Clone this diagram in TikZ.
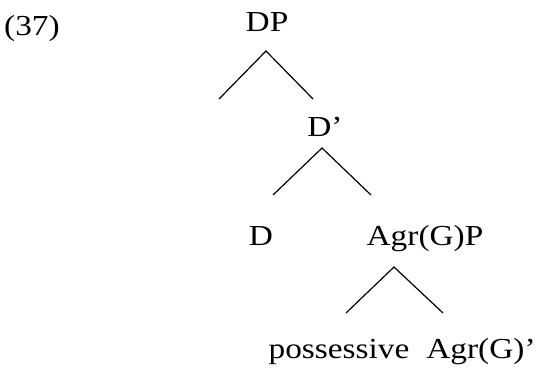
\documentclass[tikz,border=0pt]{standalone}
\usepackage{fontspec}
\setmainfont[FakeStretch=1.15]{Liberation Serif}
\usetikzlibrary{positioning}
\tikzset{
  branch/.style = {line width=1.2pt, black},
  cat/.style    = {anchor=base, inner sep=0pt, font=\fontsize{29}{31}\selectfont},
  exno/.style   = {anchor=base west, inner sep=0pt, font=\fontsize{29}{31}\selectfont},
}

\begin{document}
\begin{tikzpicture}[x=1pt, y=-1pt]
\useasboundingbox (0,0) rectangle (538,367);

% ---- example number and labels --------------------------------------------
\node[exno] (ex)   at (4,35)    {(37)};
\node[cat]  (dp)   at (267,31)  {DP};
\node[cat]  (dbar) at (325,136) {D’};
\node[cat]  (d)    at (261,245) {D};
\node[cat]  (agrp) at (425,245) {Agr(G)P};
\node[cat]  (poss) at (339,358) {possessive};
\node[cat]  (agrbar) at (481,358) {Agr(G)’};

% ---- branching points -----------------------------------------------------
\coordinate (dp-top)    at (266,51);
\coordinate (dp-left)   at (219,99);
\coordinate (dp-right)  at (313,99);
\coordinate (dbar-top)  at (322,148);
\coordinate (dbar-left) at (273,195);
\coordinate (dbar-right) at (371,195);
\coordinate (agrp-top)  at (394,267);
\coordinate (agrp-left) at (346,313);
\coordinate (agrp-right) at (443,313);

% ---- branches -------------------------------------------------------------
\draw[branch] (dp-left) -- (dp-top) -- (dp-right);
\draw[branch] (dbar-left) -- (dbar-top) -- (dbar-right);
\draw[branch] (agrp-left) -- (agrp-top) -- (agrp-right);

\end{tikzpicture}
\end{document}
